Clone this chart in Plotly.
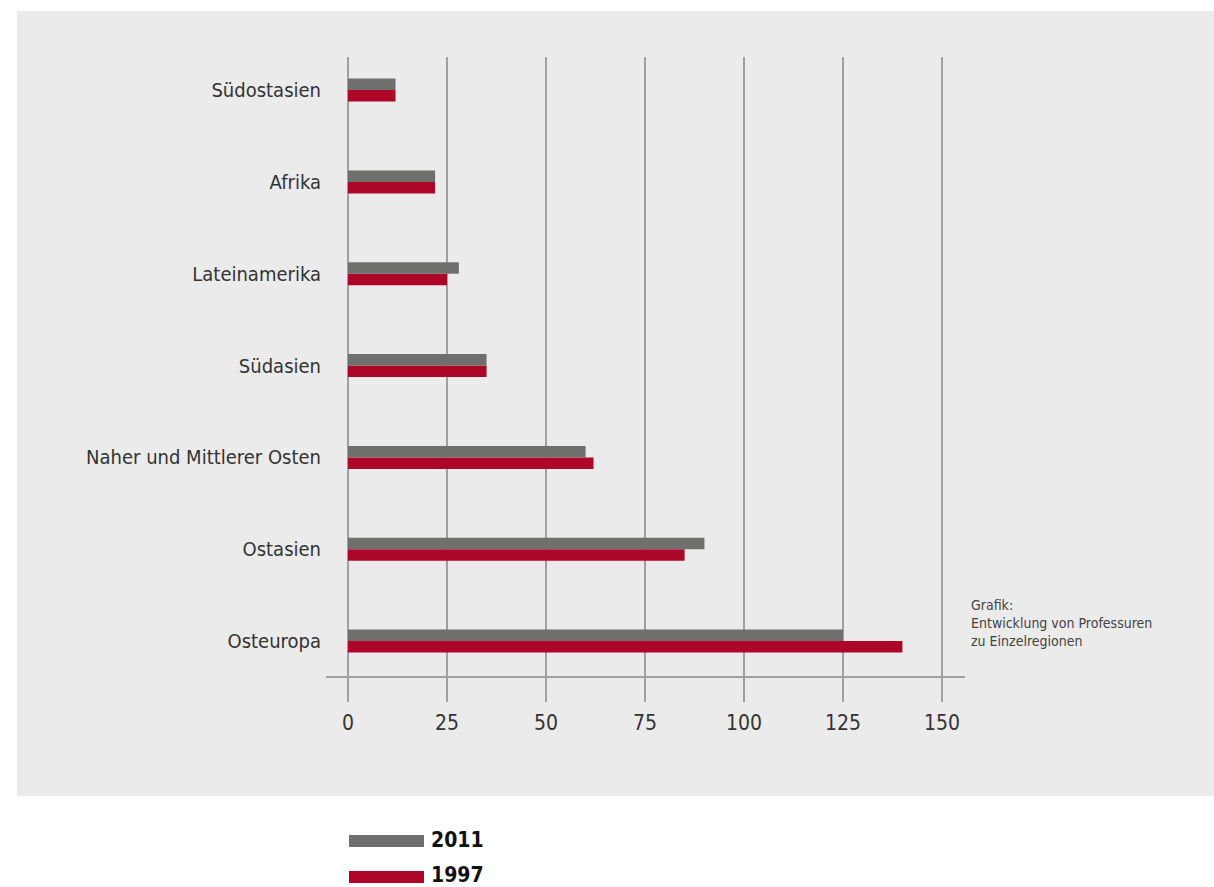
import plotly.graph_objects as go

regions = ["Südostasien", "Afrika", "Lateinamerika", "Südasien",
           "Naher und Mittlerer Osten", "Ostasien", "Osteuropa"]
values_2011 = [12, 22, 28, 35, 60, 90, 125]
values_1997 = [12, 22, 25, 35, 62, 85, 140]
tick_vals = [0, 25, 50, 75, 100, 125, 150]
tick_text = ["0", "25", "50", "75", "100", "125", "150"]

GRAY = "#6f6f6e"
RED = "#ae0628"
BG = "#ebebeb"
FONT = "Liberation Sans Narrow, DejaVu Sans Condensed, Roboto, sans-serif"

fig = go.Figure()
# 1997 first -> lower within group; 2011 on top
fig.add_trace(go.Bar(y=regions, x=values_1997, orientation="h", name="1997",
                     marker=dict(color=RED, line=dict(width=0)), showlegend=False))
fig.add_trace(go.Bar(y=regions, x=values_2011, orientation="h", name="2011",
                     marker=dict(color=GRAY, line=dict(width=0)), showlegend=False))

L, R, T, B = 326, 965, 57, 676
W, H = R - L, B - T

def px(x):
    return (x - L) / W

def py(y):
    return (B - y) / H

shapes = [
    dict(type="rect", xref="paper", yref="paper", x0=px(17), x1=px(1214),
         y0=py(796), y1=py(11), fillcolor=BG, line=dict(width=0), layer="below"),
    dict(type="rect", xref="paper", yref="paper", x0=px(349), x1=px(424),
         y0=py(847), y1=py(835), fillcolor=GRAY, line=dict(width=0)),
    dict(type="rect", xref="paper", yref="paper", x0=px(349), x1=px(424),
         y0=py(883), y1=py(871), fillcolor=RED, line=dict(width=0)),
]

annotations = [
    dict(xref="paper", yref="paper", x=px(969), y=py(595), xanchor="left", yanchor="top",
         align="left", showarrow=False,
         text="Grafik:<br>Entwicklung von Professuren<br>zu Einzelregionen",
         font=dict(family=FONT, size=14, color="#444444")),
    dict(xref="paper", yref="paper", x=px(429), y=py(840), xanchor="left", yanchor="middle",
         showarrow=False, text="<b>2011</b>", font=dict(family=FONT, size=21, color="#111111")),
    dict(xref="paper", yref="paper", x=px(429), y=py(875), xanchor="left", yanchor="middle",
         showarrow=False, text="<b>1997</b>", font=dict(family=FONT, size=21, color="#111111")),
]

fig.update_layout(
    width=1214, height=887,
    margin=dict(l=L, r=1214 - R, t=T, b=887 - B),
    paper_bgcolor="white",
    plot_bgcolor="rgba(0,0,0,0)",
    barmode="group",
    bargap=0.75,
    bargroupgap=0,
    shapes=shapes,
    annotations=annotations,
    font=dict(family=FONT, color="#333333"),
    xaxis=dict(
        range=[-5.55, 155.8],
        tickvals=tick_vals, ticktext=tick_text,
        showgrid=True, gridcolor="#a0a0a0", gridwidth=2,
        zeroline=False,
        showline=True, linecolor="#a0a0a0", linewidth=1.5,
        ticks="outside", ticklen=24, tickcolor="#a0a0a0", tickwidth=1.5,
        ticklabelstandoff=3,
        tickfont=dict(family=FONT, size=21, color="#333333"),
        fixedrange=True,
    ),
    yaxis=dict(
        categoryorder="array", categoryarray=regions[::-1],
        range=[-0.38, 6.36],
        showgrid=False, zeroline=False, showline=False,
        ticks="", ticklabelstandoff=4,
        tickfont=dict(family=FONT, size=20, color="#333333"),
        fixedrange=True,
    ),
)

fig.write_html("out.html")
